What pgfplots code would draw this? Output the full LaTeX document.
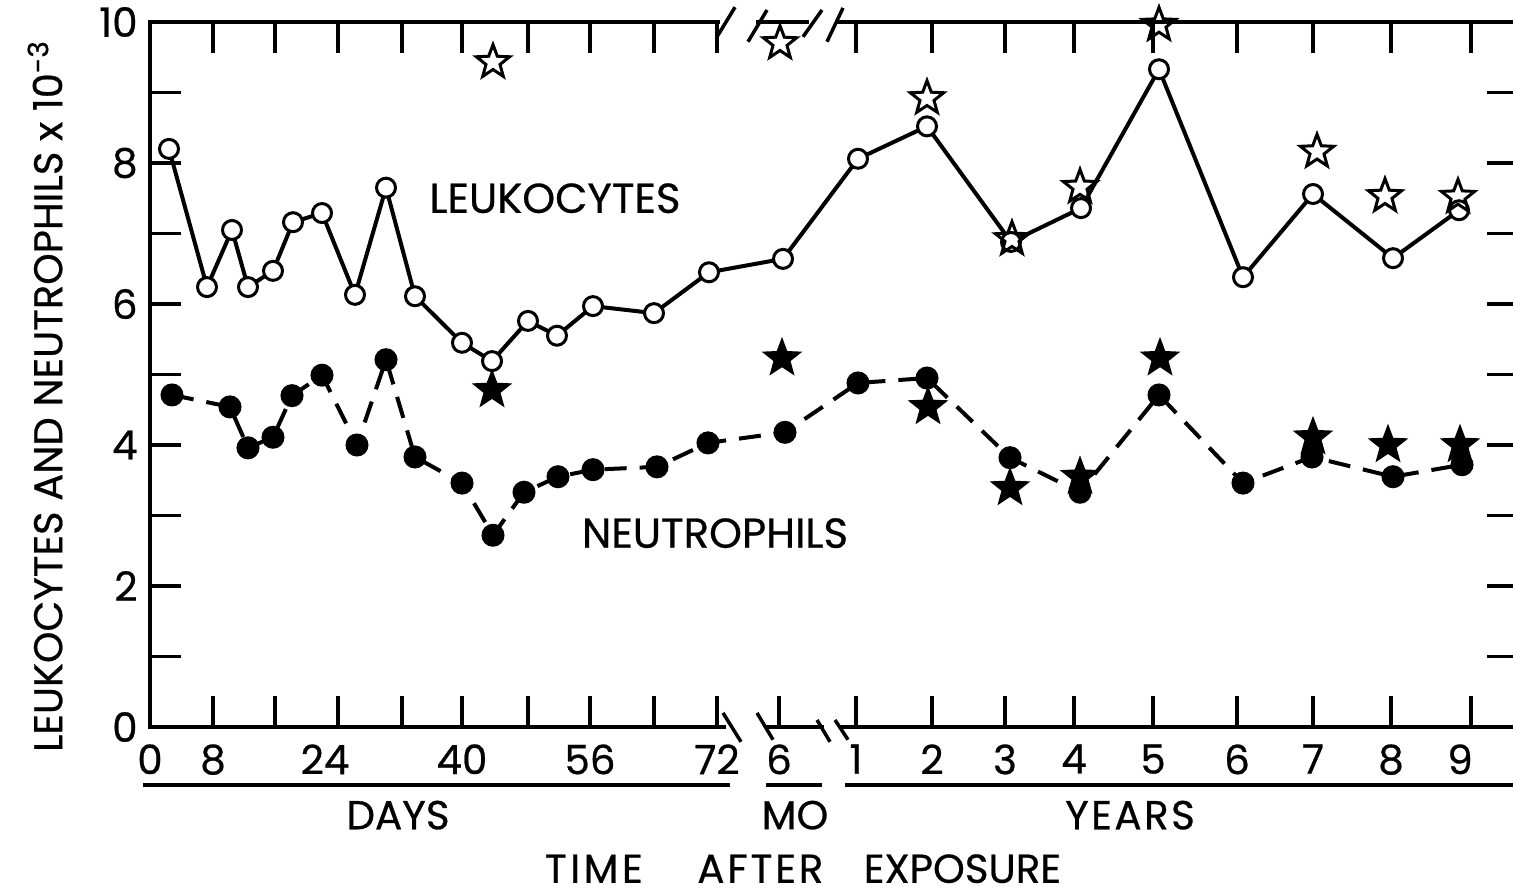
\documentclass[border=0pt]{standalone}
\usepackage{fontspec}
\setmainfont{Poppins}[FakeBold=0.6]
\usepackage{pgfplots}
\pgfplotsset{compat=1.18}

\pgfdeclareplotmark{fstar}{%
  \pgfpathmoveto{\pgfpointpolar{90}{\pgfplotmarksize}}%
  \pgfpathlineto{\pgfpointpolar{126}{0.42\pgfplotmarksize}}%
  \pgfpathlineto{\pgfpointpolar{162}{\pgfplotmarksize}}%
  \pgfpathlineto{\pgfpointpolar{198}{0.42\pgfplotmarksize}}%
  \pgfpathlineto{\pgfpointpolar{234}{\pgfplotmarksize}}%
  \pgfpathlineto{\pgfpointpolar{270}{0.42\pgfplotmarksize}}%
  \pgfpathlineto{\pgfpointpolar{306}{\pgfplotmarksize}}%
  \pgfpathlineto{\pgfpointpolar{342}{0.42\pgfplotmarksize}}%
  \pgfpathlineto{\pgfpointpolar{18}{\pgfplotmarksize}}%
  \pgfpathlineto{\pgfpointpolar{54}{0.42\pgfplotmarksize}}%
  \pgfpathclose
  \pgfusepathqfillstroke}
\pgfdeclareplotmark{ostar}{%
  \pgfpathmoveto{\pgfpointpolar{90}{\pgfplotmarksize}}%
  \pgfpathlineto{\pgfpointpolar{126}{0.42\pgfplotmarksize}}%
  \pgfpathlineto{\pgfpointpolar{162}{\pgfplotmarksize}}%
  \pgfpathlineto{\pgfpointpolar{198}{0.42\pgfplotmarksize}}%
  \pgfpathlineto{\pgfpointpolar{234}{\pgfplotmarksize}}%
  \pgfpathlineto{\pgfpointpolar{270}{0.42\pgfplotmarksize}}%
  \pgfpathlineto{\pgfpointpolar{306}{\pgfplotmarksize}}%
  \pgfpathlineto{\pgfpointpolar{342}{0.42\pgfplotmarksize}}%
  \pgfpathlineto{\pgfpointpolar{18}{\pgfplotmarksize}}%
  \pgfpathlineto{\pgfpointpolar{54}{0.42\pgfplotmarksize}}%
  \pgfpathclose
  \pgfusepathqstroke}

\begin{document}
\begin{tikzpicture}
\begin{axis}[
  scale only axis, width=136.8mm, height=70.5mm,
  xmin=150, xmax=1518, ymin=0, ymax=10,
  clip=false,
  axis line style={line width=0.4mm},
  tick style={line width=0.35mm, black},
  major tick length=3.1mm, minor tick length=3.1mm,
  xtick={150,213,275,338,402,462,528,590,654,717,856,932,1005,1074,1153,1237,1313,1391,1471},
  xticklabels={0,8,,\hspace*{-2.6mm}24,,40,,56,,72,1,2,3,4,5,6,7,8,\hspace*{-2.2mm}9},
  extra x ticks={779}, extra x tick labels={6},
  extra x tick style={major tick length=0pt},
  ytick={0,2,4,6,8,10}, yticklabels={0,2,4,6,8,10},
  minor ytick={1,3,5,7,9},
  tick label style={font=\fontsize{11.5}{13}\selectfont},
  xticklabel style={yshift=-0.5mm},
  yticklabel style={xshift=0mm},
]
% Leukocytes
\addplot[black, line width=0.4mm, mark=*, mark size=0.95mm,
  mark options={fill=white, line width=0.3mm}] coordinates {
(169,8.20)(207,6.24)(232,7.05)(248,6.24)(273,6.47)(293,7.16)(322,7.29)
(355,6.13)(386,7.65)(415,6.11)(462,5.45)(492,5.19)(528,5.76)(557,5.55)
(593,5.97)(654,5.87)(709,6.45)(783,6.64)(858,8.06)(927,8.52)(1011,6.88)
(1081,7.36)(1159,9.33)(1243,6.38)(1313,7.56)(1393,6.65)(1459,7.33)};
% Neutrophils
\addplot[black, line width=0.4mm, dash pattern=on 2.2mm off 1.3mm, mark=*, mark size=0.95mm,
  mark options={solid, fill=black}] coordinates {
(172,4.71)(230,4.54)(248,3.96)(273,4.11)(292,4.70)(322,4.99)(357,4.00)
(386,5.21)(415,3.83)(462,3.46)(493,2.72)(524,3.33)(558,3.55)(593,3.65)
(657,3.69)(708,4.03)(785,4.18)(858,4.88)(927,4.95)(1010,3.82)(1080,3.33)
(1159,4.71)(1243,3.46)(1312,3.83)(1393,3.55)(1462,3.72)};
% open stars
\addplot[only marks, mark=ostar, mark size=1.75mm, mark options={line width=0.3mm, black}] coordinates {
(493,9.43)(780,9.70)(927,8.92)(1012,6.92)(1080,7.66)(1159,9.96)(1317,8.16)(1385,7.53)(1458,7.52)};
% filled stars
\addplot[only marks, mark=fstar, mark size=1.85mm, mark options={line width=0.2mm, black, fill=black}] coordinates {
(492,4.78)(782,5.23)(928,4.54)(1010,3.39)(1080,3.55)(1160,5.23)(1313,4.11)(1388,4.00)(1460,4.00)};

% axis breaks
\fill[white] (axis cs:726,-0.09) rectangle (axis cs:765,0.09);
\fill[white] (axis cs:824,-0.09) rectangle (axis cs:840,0.09);
\fill[white] (axis cs:720,9.91) rectangle (axis cs:756,10.09);
\fill[white] (axis cs:809,9.91) rectangle (axis cs:836,10.09);
\begin{scope}[line width=0.35mm]
\draw (axis cs:779,0) -- (axis cs:779,0.44);
\draw (axis cs:723,0.20) -- (axis cs:741,-0.21);
\draw (axis cs:757,0.20) -- (axis cs:773,-0.18);
\draw (axis cs:817,0.10) -- (axis cs:830,-0.21);
\draw (axis cs:835,0.10) -- (axis cs:848,-0.18);
\draw (axis cs:717,9.79) -- (axis cs:735,10.21);
\draw (axis cs:748,9.72) -- (axis cs:767,10.17);
\draw (axis cs:803,9.79) -- (axis cs:822,10.17);
\draw (axis cs:827,9.72) -- (axis cs:843,10.20);
% underlines
\draw (axis cs:143,-0.82) -- (axis cs:730,-0.82);
\draw (axis cs:766,-0.82) -- (axis cs:822,-0.82);
\draw (axis cs:845,-0.82) -- (axis cs:1518,-0.82);
\end{scope}
\node[font=\fontsize{11.5}{13}\selectfont] at (axis cs:398,-1.25) {DAYS};
\node[font=\fontsize{11.5}{13}\selectfont] at (axis cs:795,-1.25) {MO};
\node[font=\fontsize{11.5}{13}\selectfont] at (axis cs:1130,-1.25) {Y\kern0.7pt E\kern0.7pt A\kern0.7pt R\kern0.7pt S};
\node[font=\fontsize{11.5}{13}\selectfont, inner sep=1pt] at (axis cs:803,-2.01) {T\kern1pt I\kern1pt M\kern1pt E\hspace{1.35em}A\kern0.8pt F\kern0.8pt T\kern0.8pt E\kern0.8pt R\hspace{1em}EXPOSURE};
\node[font=\fontsize{11.9}{13}\selectfont] at (axis cs:555,7.50) {LEUKOCYTES};
\node[font=\fontsize{11.9}{13}\selectfont] at (axis cs:715,2.75) {NEUTROPHILS};
\node[rotate=90, font=\fontsize{11.4}{13}\selectfont, inner sep=1pt] at (axis cs:45,4.70) {LEUKOCYTES AND NEUTROPHILS x 10\textsuperscript{-3}};
\end{axis}
\pgfresetboundingbox
\path (-15mm,-16.5mm) rectangle (136.3mm,72.7mm);
\end{tikzpicture}
\end{document}
